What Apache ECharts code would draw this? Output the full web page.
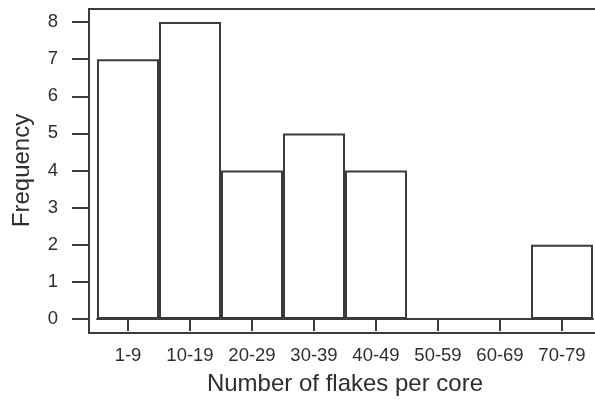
<!DOCTYPE html>
<html>
<head>
<meta charset="utf-8">
<script src="https://cdn.jsdelivr.net/npm/echarts@6/dist/echarts.min.js"></script>
<style>html,body{margin:0;padding:0;background:#fff;}#c{width:595px;height:401px;}</style>
</head>
<body>
<div id="c"></div>
<script>
var categories = ['1-9','10-19','20-29','30-39','40-49','50-59','60-69','70-79'];
var frequency = [7, 8, 4, 5, 4, 0, 0, 2];
var yTicks = [0, 1, 2, 3, 4, 5, 6, 7, 8];

var chart = echarts.init(document.getElementById('c'), null, {renderer: 'canvas'});
var lineColor = '#3a3a3a';
var textColor = '#2e2e2e';
var font = 'Liberation Sans';
chart.setOption({
  animation: false,
  backgroundColor: '#fff',
  grid: {left: 97, right: 2, top: 22, bottom: 82, containLabel: false},
  graphic: [{
    type: 'rect',
    shape: {x: 89, y: 9, width: 520, height: 324},
    style: {fill: 'none', stroke: lineColor, lineWidth: 2},
    z: 10
  }],
  xAxis: [{
    type: 'category',
    data: categories,
    boundaryGap: true,
    axisLine: {show: true, onZero: false, lineStyle: {color: lineColor, width: 2}},
    axisTick: {show: false},
    axisLabel: {show: false},
    splitLine: {show: false}
  }, {
    type: 'category',
    data: categories,
    position: 'bottom',
    offset: 14,
    boundaryGap: true,
    axisLine: {show: false},
    axisTick: {show: true, alignWithLabel: true, length: 12, lineStyle: {color: lineColor, width: 2}},
    axisLabel: {margin: 13, color: textColor, fontSize: 18.5, fontFamily: font},
    name: 'Number of flakes per core',
    nameLocation: 'middle',
    nameGap: 39,
    nameTextStyle: {color: textColor, fontSize: 24, fontFamily: font, verticalAlign: 'top'}
  }],
  yAxis: {
    type: 'value',
    min: yTicks[0],
    max: yTicks[yTicks.length - 1],
    interval: 1,
    offset: 8,
    axisLine: {show: false},
    axisTick: {show: true, length: 17, lineStyle: {color: lineColor, width: 2}},
    axisLabel: {margin: 31, color: textColor, fontSize: 18.5, fontFamily: font},
    splitLine: {show: false},
    name: 'Frequency',
    nameLocation: 'middle',
    nameGap: 55,
    nameTextStyle: {color: textColor, fontSize: 24, fontFamily: font}
  },
  series: [{
    type: 'bar',
    xAxisIndex: 0,
    data: frequency,
    barWidth: '100%',
    barCategoryGap: '0%',
    itemStyle: {color: '#fff', borderColor: lineColor, borderWidth: 2}
  }]
});
</script>
</body>
</html>
